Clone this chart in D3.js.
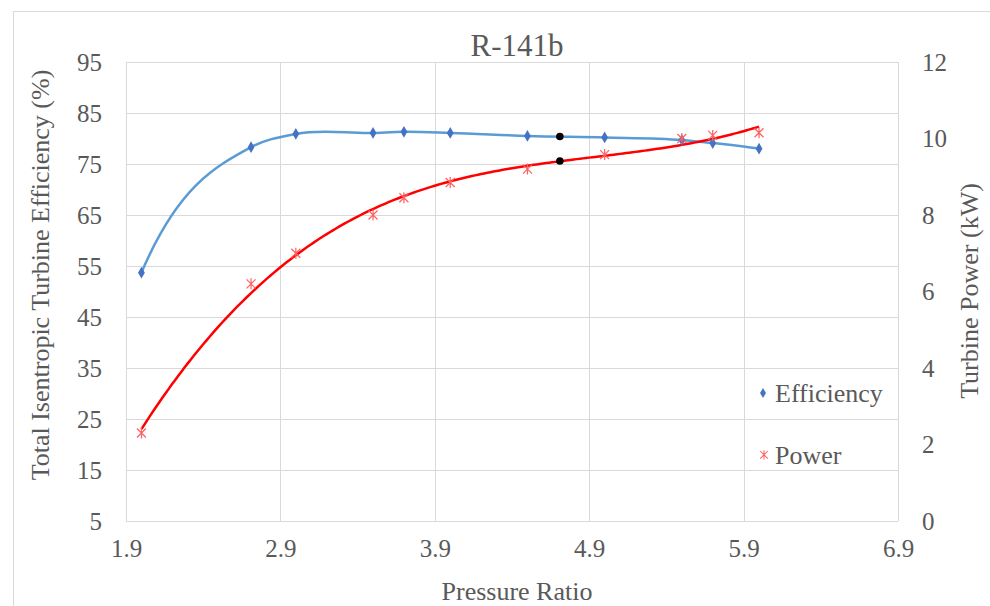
<!DOCTYPE html>
<html>
<head>
<meta charset="utf-8">
<script src="https://cdn.jsdelivr.net/npm/d3@7"></script>
<style>
  body { margin: 0; background: #fff; }
  text { font-family: "Liberation Serif", "Times New Roman", serif; fill: #595959; }
</style>
</head>
<body>
<div id="chart"></div>
<script>
const ratio = [2.0, 2.71, 3.0, 3.5, 3.7, 4.0, 4.5, 5.0, 5.5, 5.7, 6.0];
const efficiency = [53.7, 78.3, 80.9, 81.1, 81.3, 81.1, 80.5, 80.2, 79.7, 79.1, 78.0];
const power = [2.3, 6.2, 7.0, 8.0, 8.45, 8.85, 9.2, 9.58, 10.0, 10.08, 10.15];
const designRatio = [4.71];
const designEff = [80.4];
const designPower = [9.41];
const xTicks = [1.9, 2.9, 3.9, 4.9, 5.9, 6.9];
const effTicks = [5, 15, 25, 35, 45, 55, 65, 75, 85, 95];
const powerTicks = [0, 2, 4, 6, 8, 10, 12];

const W = 990, H = 606;
const margin = { top: 62, right: 92, bottom: 85, left: 126 },
    width = W - margin.left - margin.right,
    height = H - margin.top - margin.bottom;

const svg = d3.select("#chart").append("svg")
    .attr("width", W).attr("height", H);

// outer chart frame
svg.append("rect").attr("x", 13.5).attr("y", 11.5)
    .attr("width", W).attr("height", H)
    .attr("fill", "none").attr("stroke", "#d9d9d9");

const g = svg.append("g").attr("transform", `translate(${margin.left},${margin.top})`);

const x = d3.scaleLinear().domain([1.9, 6.9]).range([0, width]);
const yL = d3.scaleLinear().domain([5, 95]).range([height, 0]);
const yR = d3.scaleLinear().domain([0, 12]).range([height, 0]);

// gridlines
g.append("g").selectAll("line").data(effTicks).join("line")
    .attr("x1", 0).attr("x2", width)
    .attr("y1", d => Math.round(yL(d)) + 0.5).attr("y2", d => Math.round(yL(d)) + 0.5)
    .attr("stroke", "#d9d9d9");
g.append("g").selectAll("line").data(xTicks).join("line")
    .attr("y1", 0).attr("y2", height)
    .attr("x1", d => Math.round(x(d)) + 0.5).attr("x2", d => Math.round(x(d)) + 0.5)
    .attr("stroke", "#d9d9d9");

// axes (labels only, lines come from the grid)
const axL = g.append("g").call(d3.axisLeft(yL).tickValues(effTicks).tickSize(0).tickPadding(24));
const axR = g.append("g").attr("transform", `translate(${width},0)`)
    .call(d3.axisRight(yR).tickValues(powerTicks).tickSize(0).tickPadding(24));
const axB = g.append("g").attr("transform", `translate(0,${height})`)
    .call(d3.axisBottom(x).tickValues(xTicks).tickFormat(d3.format(".1f")).tickSize(0).tickPadding(18));
[axL, axR, axB].forEach(a => {
  a.select(".domain").remove();
  a.selectAll("text").attr("font-size", 25).attr("fill", "#595959")
      .attr("font-family", "Liberation Serif");
});

const pts = ratio.map((r, i) => ({ r, e: efficiency[i], p: power[i] }));

// efficiency: smoothed line through the points (cubic Hermite in screen space)
function smoothPath(xy) {
  const n = xy.length;
  const h = [], s = [];
  for (let i = 0; i < n - 1; i++) {
    h.push(xy[i + 1][0] - xy[i][0]);
    s.push((xy[i + 1][1] - xy[i][1]) / h[i]);
  }
  const m = new Array(n);
  for (let i = 1; i < n - 1; i++) m[i] = (s[i - 1] * h[i] + s[i] * h[i - 1]) / (h[i - 1] + h[i]);
  m[0] = 3 * s[0] - 2 * m[1];
  m[n - 1] = 3 * s[n - 2] - 2 * m[n - 2];
  const p = d3.path();
  p.moveTo(xy[0][0], xy[0][1]);
  for (let i = 0; i < n - 1; i++) {
    const d = h[i] / 3;
    p.bezierCurveTo(xy[i][0] + d, xy[i][1] + m[i] * d,
        xy[i + 1][0] - d, xy[i + 1][1] - m[i + 1] * d,
        xy[i + 1][0], xy[i + 1][1]);
  }
  return p.toString();
}
g.append("path")
    .attr("fill", "none").attr("stroke", "#5b9bd5").attr("stroke-width", 2.5)
    .attr("d", smoothPath(pts.map(d => [x(d.r), yL(d.e)])));

// power: cubic least-squares trendline fitted to the points
function polyfit(xs, ys, n) {
  const m = n + 1;
  const A = Array.from({ length: m }, () => new Array(m + 1).fill(0));
  xs.forEach((xv, k) => {
    for (let i = 0; i < m; i++) {
      for (let j = 0; j < m; j++) A[i][j] += Math.pow(xv, i + j);
      A[i][m] += ys[k] * Math.pow(xv, i);
    }
  });
  for (let i = 0; i < m; i++) {
    let piv = i;
    for (let r = i + 1; r < m; r++) if (Math.abs(A[r][i]) > Math.abs(A[piv][i])) piv = r;
    [A[i], A[piv]] = [A[piv], A[i]];
    for (let r = 0; r < m; r++) {
      if (r === i) continue;
      const f = A[r][i] / A[i][i];
      for (let c = i; c <= m; c++) A[r][c] -= f * A[i][c];
    }
  }
  return A.map((row, i) => row[m] / row[i]);
}
const coef = polyfit(ratio, power, 3);
const trend = d3.range(ratio[0], ratio[ratio.length - 1] + 1e-9, 0.02)
    .map(r => ({ r, p: coef.reduce((s, c, i) => s + c * Math.pow(r, i), 0) }));
g.append("path").datum(trend)
    .attr("fill", "none").attr("stroke", "#ff0000").attr("stroke-width", 2.5)
    .attr("d", d3.line().x(d => x(d.r)).y(d => yR(d.p)));

// markers
const diamond = d3.symbol().type(d3.symbolDiamond).size(40);
g.append("g").selectAll("path").data(pts).join("path")
    .attr("d", diamond)
    .attr("transform", d => `translate(${x(d.r)},${yL(d.e)})`)
    .attr("fill", "#4472c4");

const star = "M-4.5,-4.5L4.5,4.5M-4.5,4.5L4.5,-4.5M0,-5.5L0,5.5";
g.append("g").selectAll("path").data(pts).join("path")
    .attr("d", star)
    .attr("transform", d => `translate(${x(d.r)},${yR(d.p)})`)
    .attr("fill", "none").attr("stroke", "#ff6060").attr("stroke-width", 1.2);

// design point
g.append("g").selectAll("circle")
    .data(designRatio.flatMap((r, i) => [{ r, y: yL(designEff[i]) }, { r, y: yR(designPower[i]) }]))
    .join("circle")
    .attr("cx", d => x(d.r)).attr("cy", d => d.y).attr("r", 3.8)
    .attr("fill", "#000");

// legend
const legend = g.append("g").attr("transform", `translate(${width - 135},0)`);
legend.append("path").attr("d", d3.symbol().type(d3.symbolDiamond).size(30))
    .attr("transform", `translate(0,${yL(30.1)})`).attr("fill", "#4472c4");
legend.append("text").attr("x", 12).attr("y", yL(30.1)).attr("dy", "0.35em")
    .attr("font-size", 26).text("Efficiency");
legend.append("path").attr("d", star)
    .attr("transform", `translate(1,${yR(1.73)}) scale(0.85)`)
    .attr("fill", "none").attr("stroke", "#ff6060").attr("stroke-width", 1.2);
legend.append("text").attr("x", 12).attr("y", yR(1.73)).attr("dy", "0.35em")
    .attr("font-size", 26).text("Power");

// titles
svg.append("text").attr("x", 517).attr("y", 56).attr("text-anchor", "middle")
    .attr("font-size", 31).text("R-141b");
svg.append("text").attr("x", 517).attr("y", 600).attr("text-anchor", "middle")
    .attr("font-size", 26).text("Pressure Ratio");
svg.append("text").attr("transform", "translate(49,275) rotate(-90)")
    .attr("text-anchor", "middle").attr("font-size", 26)
    .text("Total Isentropic Turbine Efficiency (%)");
svg.append("text").attr("transform", "translate(978,291) rotate(-90)")
    .attr("text-anchor", "middle").attr("font-size", 26)
    .text("Turbine Power (kW)");
</script>
</body>
</html>
